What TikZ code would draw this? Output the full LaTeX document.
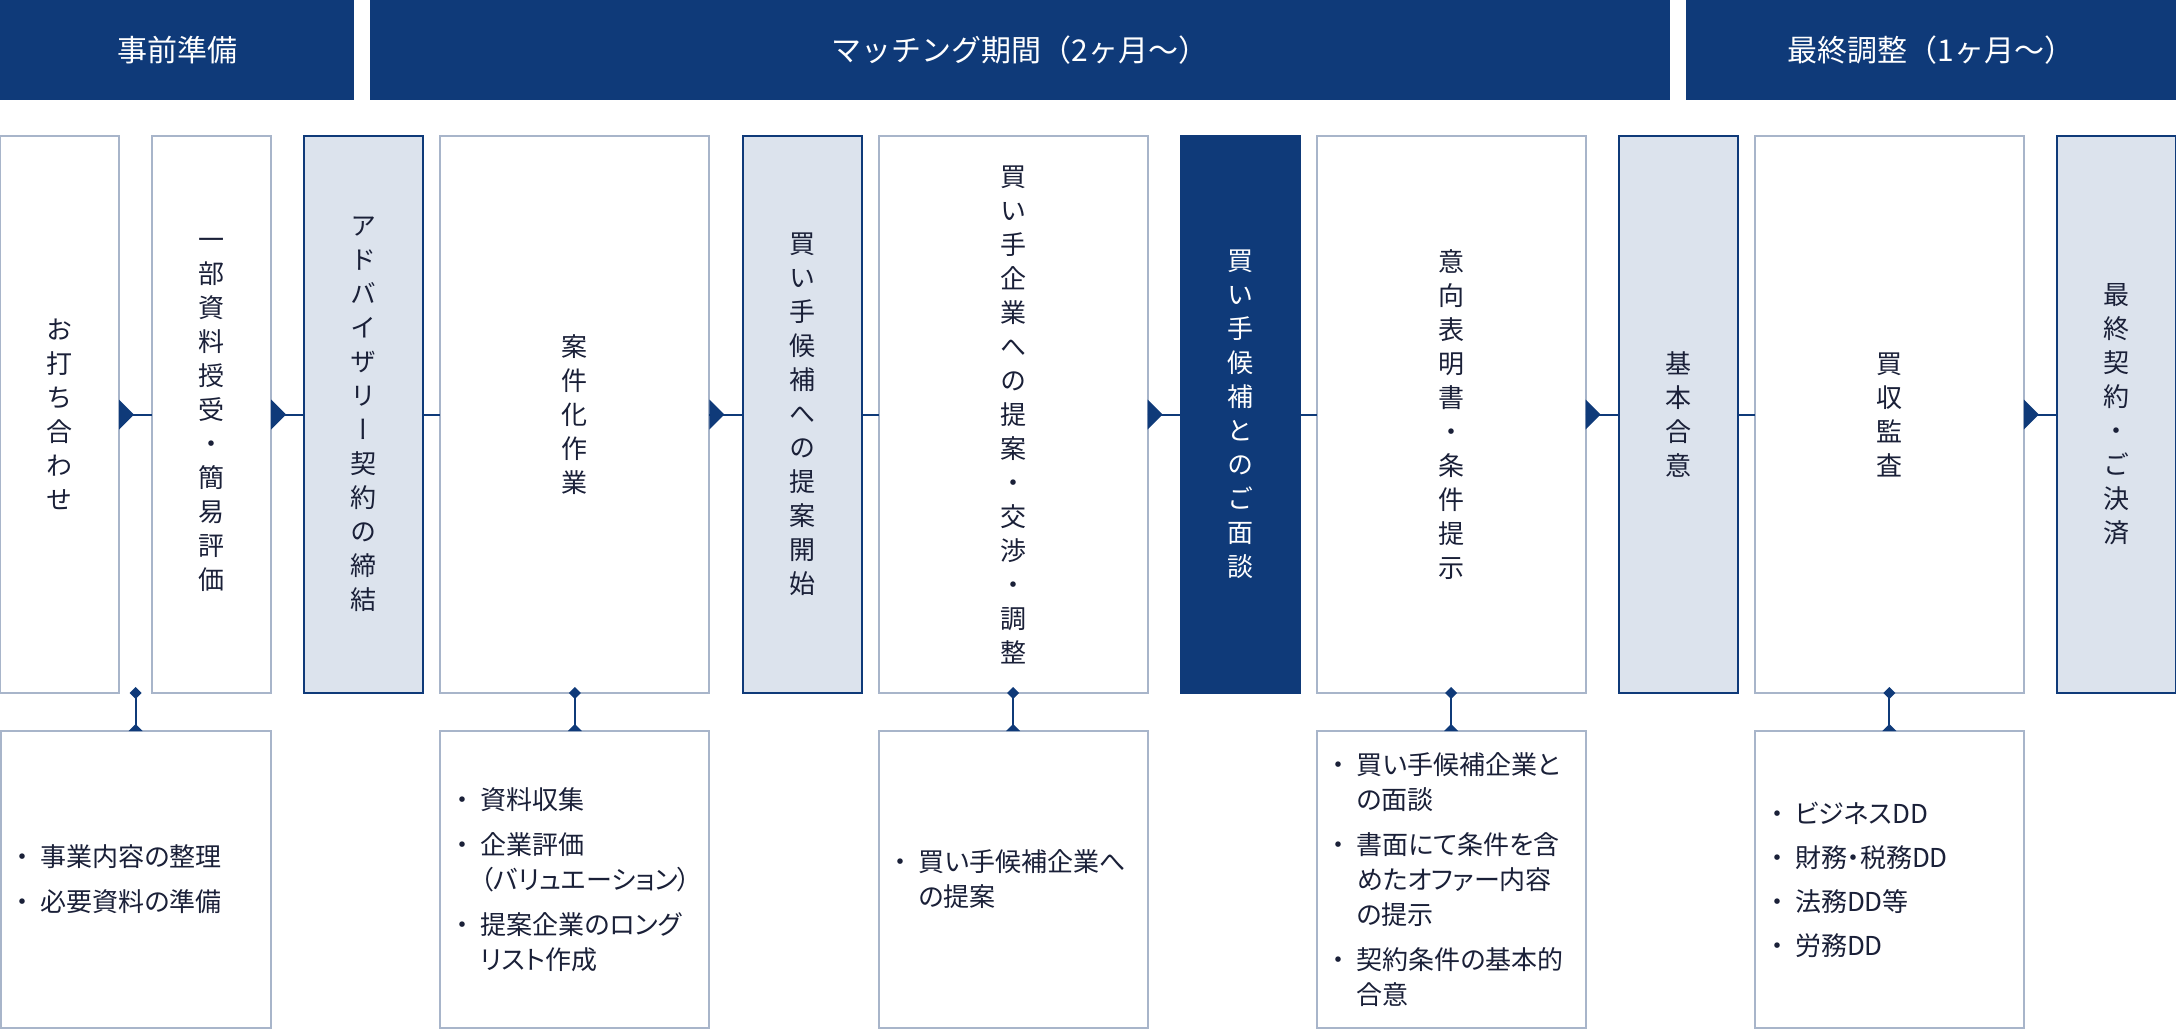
\documentclass[tikz,border=0pt]{standalone}
\usepackage{fontspec}
\setmainfont{Noto Sans CJK JP}
\newfontfamily\vjp[RawFeature=+vert]{Noto Sans CJK JP}
\newfontfamily\pjp[RawFeature=+palt]{Noto Sans CJK JP}
\newfontfamily\bjp{Noto Sans CJK JP}
\definecolor{navy}{RGB}{15,58,121}
\definecolor{shade}{RGB}{220,227,237}
\definecolor{lborder}{RGB}{168,181,202}
\definecolor{tcol}{RGB}{26,32,56}
\newcommand\mybul{\llap{\makebox[26pt]{\bjp ・}\kern5pt}}
\begin{document}
\begin{tikzpicture}[x=1pt,y=-1pt,
  tb/.style={rectangle, inner sep=0pt, outer sep=0pt, minimum height=557pt, line width=2pt, font=\vjp\fontsize{26}{34}\selectfont, align=center},
  wb/.style={tb, draw=lborder, fill=white, text=tcol},
  sb/.style={tb, draw=navy, fill=shade, text=tcol},
  db/.style={tb, draw=navy, fill=navy, text=white},
  nar/.style={minimum width=119pt},
  wid/.style={minimum width=269pt},
  hdr/.style={rectangle, fill=navy, text=white, inner sep=0pt, outer sep=0pt, minimum height=100pt, font=\fontsize{30}{32}\selectfont},
  bb/.style={rectangle, draw=lborder, fill=white, line width=2pt, inner sep=0pt, outer sep=0pt, minimum width=269pt, minimum height=297pt},
  bt/.style={anchor=west, inner sep=0pt, align=left, text=tcol, font=\pjp\fontsize{26}{35}\selectfont},
  conn/.style={draw=navy, line width=2pt}]
\useasboundingbox (0,0) rectangle (2176,1030);

% headers
\node[hdr, minimum width=354pt] (h1) at (177,50) {事前準備};
\node[hdr, minimum width=1300pt] (h2) at (1020,50) {マッチング期間（2ヶ月～）};
\node[hdr, minimum width=490pt] (h3) at (1931,50) {最終調整（1ヶ月～）};

% top boxes
\node[wb, nar] (t1) at (59.5,414.5) {お\\打\\ち\\合\\わ\\せ};
\node[wb, nar] (t2) at (211.67,414.5) {一\\部\\資\\料\\授\\受\\・\\簡\\易\\評\\価};
\node[sb, nar] (t3) at (363.83,414.5) {ア\\ド\\バ\\イ\\ザ\\リ\\ー\\契\\約\\の\\締\\結};
\node[wb, wid] (t4) at (574.83,414.5) {案\\件\\化\\作\\業};
\node[sb, nar] (t5) at (802,414.5) {買\\い\\手\\候\\補\\へ\\の\\提\\案\\開\\始};
\node[wb, wid] (t6) at (1013,414.5) {買\\い\\手\\企\\業\\へ\\の\\提\\案\\・\\交\\渉\\・\\調\\整};
\node[db, nar] (t7) at (1240.17,414.5) {買\\い\\手\\候\\補\\と\\の\\ご\\面\\談};
\node[wb, wid] (t8) at (1451.17,414.5) {意\\向\\表\\明\\書\\・\\条\\件\\提\\示};
\node[sb, nar] (t9) at (1678.33,414.5) {基\\本\\合\\意};
\node[wb, wid] (t10) at (1889.33,414.5) {買\\収\\監\\査};
\node[sb, nar] (t11) at (2116.5,414.5) {最\\終\\契\\約\\・\\ご\\決\\済};

% bottom boxes
\node[bb, minimum width=270pt] (B1) at (135.58,879.5) {};
\node[bb] (B2) at (574.83,879.5) {};
\node[bb] (B3) at (1013,879.5) {};
\node[bb] (B4) at (1451.17,879.5) {};
\node[bb] (B5) at (1889.33,879.5) {};

\node[bt] (x1) at ([xshift=40pt]B1.west) {\mybul 事業内容の整理\\[10pt]\mybul 必要資料の準備};
\node[bt] (x2) at ([xshift=40pt]B2.west) {\mybul 資料収集\\[10pt]\mybul 企業評価\\（バリュエーション）\\[10pt]\mybul 提案企業のロング\\リスト作成};
\node[bt] (x3) at ([xshift=40pt]B3.west) {\mybul 買い手候補企業へ\\の提案};
\node[bt] (x4) at ([xshift=40pt]B4.west) {\mybul 買い手候補企業と\\の面談\\[10pt]\mybul 書面にて条件を含\\めたオファー内容\\の提示\\[10pt]\mybul 契約条件の基本的\\合意};
\node[bt] (x5) at ([xshift=40pt]B5.west) {\mybul ビジネスDD\\[9pt]\mybul 財務・税務DD\\[9pt]\mybul 法務DD等\\[9pt]\mybul 労務DD};

% horizontal connectors
\foreach \a/\b in {t1/t2,t2/t3,t4/t5,t6/t7,t8/t9,t10/t11}{
  \draw[conn] (\a.east) -- (\b.west);
  \fill[navy] ([yshift=-15pt]\a.east) -- ([xshift=15pt]\a.east) -- ([yshift=15pt]\a.east) -- cycle;
}
\foreach \a/\b in {t3/t4,t5/t6,t7/t8,t9/t10}{
  \draw[conn] (\a.east) -- (\b.west);
}

% vertical connectors
\node[inner sep=0pt, outer sep=0pt, minimum size=0pt] (c1) at (135.58,693) {};
\foreach \a/\b in {c1/B1,t4/B2,t6/B3,t8/B4,t10/B5}{
  \draw[conn] (\a.south) -- (\b.north);
  \fill[navy] ([yshift=-6pt]\a.south) -- ([xshift=6pt]\a.south) -- ([yshift=6pt]\a.south) -- ([xshift=-6pt]\a.south) -- cycle;
  \fill[navy] ([xshift=-7pt]\b.north) -- ([yshift=7pt]\b.north) -- ([xshift=7pt]\b.north) -- cycle;
}
\end{tikzpicture}
\end{document}
